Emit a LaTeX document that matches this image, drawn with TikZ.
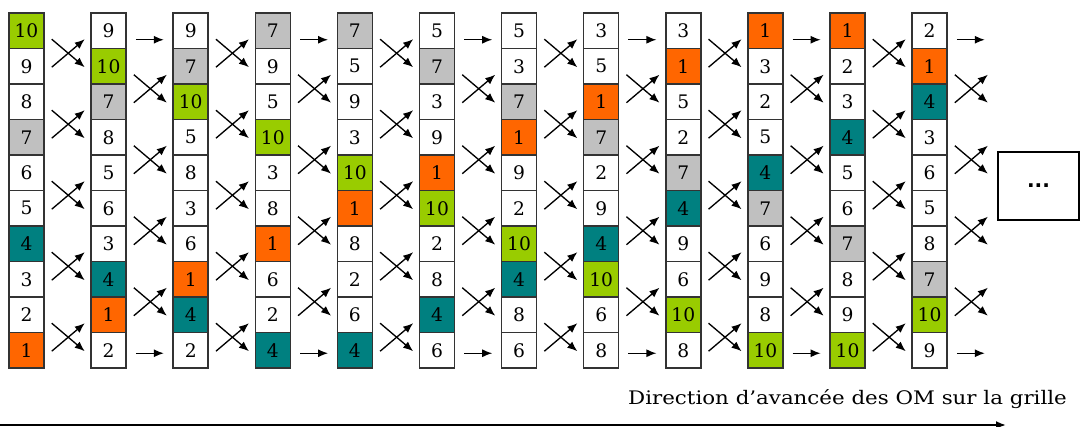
\documentclass[tikz,border=0pt]{standalone}
\usepackage{fontspec}
\usepackage{graphicx}
\setmainfont{DejaVu Serif}
\setsansfont{DejaVu Sans}
\usetikzlibrary{calc,arrows.meta}
\definecolor{omgreen}{HTML}{99CC00}
\definecolor{omgrey}{HTML}{C0C0C0}
\definecolor{omteal}{HTML}{008080}
\definecolor{omorange}{HTML}{FF6600}
\tikzstyle{cell} = [rectangle, draw=black!80, line width=1.1pt, fill=white,
minimum width=26.25pt, minimum height=26.6pt, inner sep=0pt, font=\fontsize{14}{14}\selectfont]
\tikzstyle{line} = [draw, line width=1pt, -{Latex[length=7.5pt,width=6pt]}]
\tikzstyle{val1} = [cell, fill=omorange]
\tikzstyle{val4} = [cell, fill=omteal]
\tikzstyle{val7} = [cell, fill=omgrey]
\tikzstyle{val10} = [cell, fill=omgreen]
\tikzstyle{val2} = [cell]
\tikzstyle{val3} = [cell]
\tikzstyle{val5} = [cell]
\tikzstyle{val6} = [cell]
\tikzstyle{val8} = [cell]
\tikzstyle{val9} = [cell]

\begin{document}
\begin{tikzpicture}[x=0.75pt, y=-0.75pt]
    \useasboundingbox (0,0) rectangle (1080,427);
    % nodes
    \foreach \col [count=\k] in {{10,9,8,7,6,5,4,3,2,1}, {9,10,7,8,5,6,3,4,1,2},
        {9,7,10,5,8,3,6,1,4,2}, {7,9,5,10,3,8,1,6,2,4}, {7,5,9,3,10,1,8,2,6,4},
        {5,7,3,9,1,10,2,8,4,6}, {5,3,7,1,9,2,10,4,8,6}, {3,5,1,7,2,9,4,10,6,8},
        {3,1,5,2,7,4,9,6,10,8}, {1,3,2,5,4,7,6,9,8,10}, {1,2,3,4,5,6,7,8,9,10},
        {2,1,4,3,6,5,8,7,10,9}}
      \foreach \v [count=\r from 0] in \col
        \node [val\v] (c\k-\r) at ({26.5+82.1*(\k-1)}, {30.75+35.5*\r}) {\v};
    \node [draw, line width=1.1pt, minimum width=60.75pt, minimum height=51pt,
      font=\sffamily\bfseries\fontsize{15}{15}\selectfont] (more) at (1038.5,186) {...};
    \node [anchor=base] (dirlabel) at (847.5,404)
      {\resizebox{329pt}{\height}{\fontsize{14}{16}\selectfont Direction d’avancée des OM sur la grille}};
    \coordinate (dirstart) at (0,425);
    \coordinate (dirend) at (1006,425);

    % edges
    \foreach \k in {1,3,...,11}
      \foreach \r in {0,2,4,6,8} {
        \path [line] ($(c\k-\r.south east)+(7,-10)$) -- ($(c\k-\r.south east)+(40,18)$);
        \path [line] ($(c\k-\r.south east)+(7,18)$) -- ($(c\k-\r.south east)+(40,-10)$);
      }
    \foreach \k in {2,4,...,12} {
      \foreach \r in {1,3,5,7} {
        \path [line] ($(c\k-\r.south east)+(7,-10)$) -- ($(c\k-\r.south east)+(40,18)$);
        \path [line] ($(c\k-\r.south east)+(7,18)$) -- ($(c\k-\r.south east)+(40,-10)$);
      }
      \path [line] ($(c\k-0.east)+(9,9)$) -- ($(c\k-0.east)+(37,9)$);
      \path [line] ($(c\k-9.east)+(9,3)$) -- ($(c\k-9.east)+(37,3)$);
    }
    \draw [line, line width=1.4pt] (dirstart) -- (dirend);
\end{tikzpicture}
\end{document}
